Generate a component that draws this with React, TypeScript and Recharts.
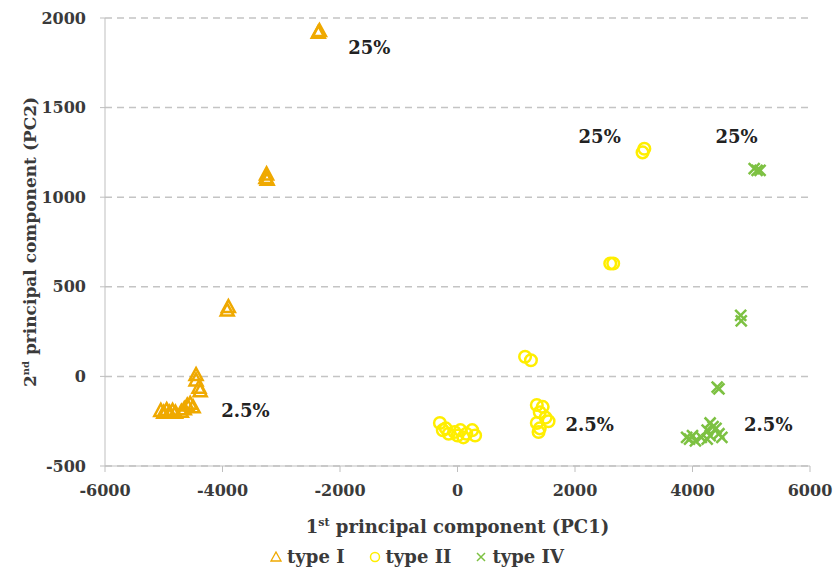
import { ScatterChart, Scatter, XAxis, YAxis, CartesianGrid, ReferenceDot, Label } from 'recharts';

// PCA scores
const typeIX = [-2350, -2370, -3250, -3240, -3260, -3900, -3920, -4450, -4450, -4380, -4400, -4500, -4550, -4600, -4650, -4700, -4800, -4850, -4900, -4950, -5000, -5050];
const typeIY = [1930, 1920, 1130, 1100, 1110, 390, 370, 10, -20, -80, -60, -170, -150, -160, -180, -195, -200, -190, -200, -185, -200, -190];

const typeIIX = [3150, 3180, 2600, 2650, 1150, 1250, -300, -250, -200, -150, -50, 0, 50, 100, 150, 250, 300, 1350, 1450, 1400, 1500, 1350, 1400, 1380, 1550];
const typeIIY = [1250, 1270, 630, 630, 110, 90, -260, -300, -290, -320, -310, -330, -300, -340, -320, -300, -330, -160, -170, -200, -230, -260, -290, -310, -250];

const typeIVX = [5050, 5100, 5150, 4820, 4830, 4450, 4420, 3900, 3950, 4000, 4050, 4150, 4250, 4300, 4350, 4300, 4450, 4500, 4250, 4400];
const typeIVY = [1160, 1150, 1150, 340, 310, -70, -60, -340, -350, -330, -360, -340, -300, -260, -280, -330, -320, -340, -350, -290];

const xTicks = [-6000, -4000, -2000, 0, 2000, 4000, 6000];
const yTicks = [-500, 0, 500, 1000, 1500, 2000];

const noteText = ['25%', '25%', '25%', '2.5%', '2.5%', '2.5%'];
const noteX = [-1500, 2420, 4750, -3610, 2250, 5290];
const noteY = [1836, 1339, 1339, -190, -268, -268];

const toPoints = (xs: number[], ys: number[]) => xs.map((x, i) => ({ x, y: ys[i] }));

const ORANGE = '#EFA900';
const YELLOW = '#FFEE00';
const GREEN = '#7DC142';
const FONT = 'DejaVu Serif';
const TEXT = '#3a3a3a';

const Triangle = (p: any) => (
  <polygon
    points={`${p.cx},${p.cy - 6.5} ${p.cx + 6.5},${p.cy + 5.5} ${p.cx - 6.5},${p.cy + 5.5}`}
    fill="none"
    stroke={ORANGE}
    strokeWidth={2.5}
  />
);
const Circle = (p: any) => <circle cx={p.cx} cy={p.cy} r={5.8} fill="none" stroke={YELLOW} strokeWidth={2.5} />;
const Cross = (p: any) => (
  <path
    d={`M${p.cx - 5.5},${p.cy - 5.5}L${p.cx + 5.5},${p.cy + 5.5}M${p.cx + 5.5},${p.cy - 5.5}L${p.cx - 5.5},${p.cy + 5.5}`}
    stroke={GREEN}
    strokeWidth={2.5}
  />
);

const tickStyle = { fill: TEXT, fontSize: 16, fontFamily: FONT, fontWeight: 700 };

export default function App() {
  return (
    <div style={{ position: 'absolute', left: 0, top: 0, width: 834, height: 583, background: '#fff' }}>
      <ScatterChart width={834} height={583} margin={{ top: 18, right: 24, bottom: 87, left: 40 }}>
        <CartesianGrid vertical={false} stroke="#C4C4C4" strokeDasharray="7 5" strokeWidth={1.5} />
        <XAxis
          type="number"
          dataKey="x"
          domain={[-6000, 6000]}
          ticks={xTicks}
          stroke="#BFBFBF"
          tickLine={{ stroke: '#BFBFBF' }}
          tickSize={6}
          tickMargin={13}
          height={30}
          tick={tickStyle}
        >
          <Label
            content={(props: any) => {
              const vb = props.viewBox;
              return (
                <text x={vb.x + vb.width / 2} y={533} textAnchor="middle" fill={TEXT} fontFamily={FONT} fontWeight={700} fontSize={18}>
                  1<tspan fontSize={11} dy={-7}>st</tspan>
                  <tspan dy={7}> principal component (PC1)</tspan>
                </text>
              );
            }}
          />
        </XAxis>
        <YAxis
          type="number"
          dataKey="y"
          domain={[-500, 2000]}
          ticks={yTicks}
          stroke="#BFBFBF"
          tickLine={{ stroke: '#BFBFBF' }}
          tickSize={5}
          tickMargin={14}
          width={65}
          tick={tickStyle}
        >
          <Label
            content={() => (
              <text
                x={0}
                y={0}
                transform="translate(36,242) rotate(-90)"
                textAnchor="middle"
                fill={TEXT}
                fontFamily={FONT}
                fontWeight={700}
                fontSize={17}
              >
                2<tspan fontSize={10} dy={-7}>nd</tspan>
                <tspan dy={7}> principal component (PC2)</tspan>
              </text>
            )}
          />
        </YAxis>
        <Scatter name="type I" data={toPoints(typeIX, typeIY)} shape={Triangle} isAnimationActive={false} />
        <Scatter name="type II" data={toPoints(typeIIX, typeIIY)} shape={Circle} isAnimationActive={false} />
        <Scatter name="type IV" data={toPoints(typeIVX, typeIVY)} shape={Cross} isAnimationActive={false} />
        {noteText.map((t, i) => (
          <ReferenceDot
            key={i}
            x={noteX[i]}
            y={noteY[i]}
            r={0}
            ifOverflow="visible"
            shape={(p: any) => (
              <text x={p.cx} y={p.cy} dy={7} textAnchor="middle" fill="#222" fontFamily={FONT} fontWeight={700} fontSize={18}>
                {t}
              </text>
            )}
          />
        ))}
      </ScatterChart>
      <div
        style={{
          position: 'absolute',
          top: 546,
          left: 0,
          width: 834,
          display: 'flex',
          justifyContent: 'center',
          gap: 24,
          fontFamily: FONT,
          fontWeight: 700,
          fontSize: 18,
          color: TEXT,
        }}
      >
        {[
          { name: 'type I', icon: <polygon points="6,1 11,10 1,10" fill="none" stroke={ORANGE} strokeWidth={1.3} /> },
          { name: 'type II', icon: <circle cx={6} cy={6} r={4.5} fill="none" stroke={YELLOW} strokeWidth={1.5} /> },
          { name: 'type IV', icon: <path d="M2,2L10,10M10,2L2,10" stroke={GREEN} strokeWidth={1.5} /> },
        ].map((l) => (
          <div key={l.name} style={{ display: 'flex', alignItems: 'center', gap: 5 }}>
            <svg width={12} height={12}>{l.icon}</svg>
            <span>{l.name}</span>
          </div>
        ))}
      </div>
    </div>
  );
}
